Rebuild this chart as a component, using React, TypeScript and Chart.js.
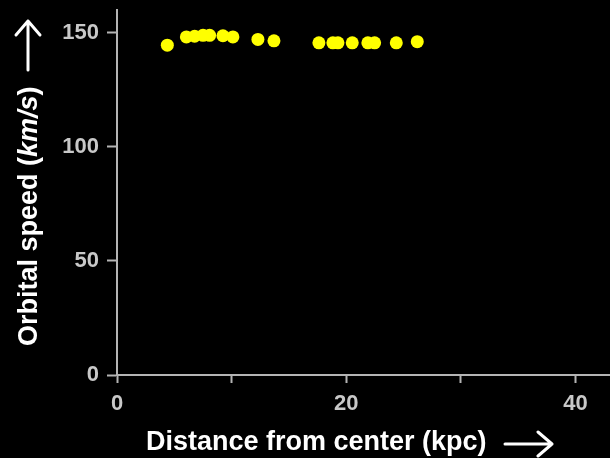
import React, { useEffect, useRef } from 'react';
import { Chart, registerables } from 'chart.js';

Chart.register(...registerables);

// Data
const distanceKpc = [4.39, 6.05, 6.77, 7.5, 8.08, 9.24, 10.11, 12.29, 13.69, 17.61, 18.83, 19.27, 20.52, 21.88, 22.47, 24.36, 26.19];
const speedKms = [144.6, 148.2, 148.5, 148.9, 148.9, 148.7, 148.2, 147.1, 146.5, 145.6, 145.6, 145.6, 145.6, 145.6, 145.6, 145.6, 146.1];
const xLabeledTicks = [0, 20, 40];
const xTitle = 'Distance from center (kpc)';
const yTitleParts = [
  { text: 'Orbital speed (', italic: false },
  { text: 'km/s', italic: true },
  { text: ')', italic: false },
];

const FONT_FAMILY = '"Liberation Sans", Arial, Helvetica, sans-serif';
const AXIS_COLOR = '#b4b4b4';
const TICK_LABEL_COLOR = '#c8c8c8';

function drawArrow(ctx: CanvasRenderingContext2D, x1: number, y1: number, x2: number, y2: number) {
  const ang = Math.atan2(y2 - y1, x2 - x1);
  const hl = 14;
  const hw = 12;
  ctx.beginPath();
  ctx.moveTo(x1, y1);
  ctx.lineTo(x2, y2);
  const bx = x2 - hl * Math.cos(ang);
  const by = y2 - hl * Math.sin(ang);
  const px = -Math.sin(ang);
  const py = Math.cos(ang);
  ctx.moveTo(bx + px * hw, by + py * hw);
  ctx.lineTo(x2, y2);
  ctx.lineTo(bx - px * hw, by - py * hw);
  ctx.stroke();
}

const titlePlugin = {
  id: 'axisTitles',
  afterDraw(chart: any) {
    const ctx: CanvasRenderingContext2D = chart.ctx;
    const font = (italic: boolean) => `${italic ? 'italic ' : ''}bold 27px ${FONT_FAMILY}`;
    ctx.save();
    ctx.fillStyle = '#ffffff';
    ctx.strokeStyle = '#ffffff';
    ctx.lineWidth = 3;
    ctx.lineCap = 'round';
    ctx.lineJoin = 'round';
    // X title
    ctx.font = font(false);
    ctx.textAlign = 'left';
    ctx.textBaseline = 'alphabetic';
    ctx.fillText(xTitle, 146, 450);
    drawArrow(ctx, 505, 444, 552, 444);
    // Y arrow
    drawArrow(ctx, 28, 70, 28, 21);
    // Y title
    ctx.translate(37, 346);
    ctx.rotate(-Math.PI / 2);
    let x = 0;
    for (const p of yTitleParts) {
      ctx.font = font(p.italic);
      ctx.fillText(p.text, x, 0);
      x += ctx.measureText(p.text).width;
    }
    ctx.restore();
  },
};

export default function App() {
  const canvasRef = useRef<HTMLCanvasElement | null>(null);

  useEffect(() => {
    document.body.style.margin = '0';
    document.body.style.background = '#000';
    const canvas = canvasRef.current;
    if (!canvas) return;
    const chart = new Chart(canvas, {
      type: 'scatter',
      data: {
        datasets: [
          {
            data: distanceKpc.map((d, i) => ({ x: d, y: speedKms[i] })),
            backgroundColor: '#ffff00',
            borderWidth: 0,
            pointRadius: 6.5,
            pointHoverRadius: 6.5,
          },
        ],
      },
      options: {
        responsive: false,
        animation: false,
        layout: { autoPadding: false, padding: { top: 10, right: 0, bottom: 0, left: 0 } },
        plugins: {
          legend: { display: false },
          tooltip: { enabled: false },
          title: { display: false },
        },
        scales: {
          x: {
            type: 'linear',
            min: 0,
            max: 43,
            afterFit: (scale: any) => {
              scale.height = 83;
              scale.paddingLeft = 0;
              scale.paddingRight = 0;
            },
            border: { display: true, color: AXIS_COLOR, width: 2 },
            grid: {
              display: true,
              drawOnChartArea: false,
              drawTicks: true,
              tickLength: 8,
              tickColor: AXIS_COLOR,
              tickWidth: 2,
            },
            ticks: {
              stepSize: 10,
              includeBounds: false,
              autoSkip: false,
              maxRotation: 0,
              padding: 8,
              color: TICK_LABEL_COLOR,
              font: { family: FONT_FAMILY, size: 22, weight: 'bold' },
              callback: (v: any) => (xLabeledTicks.includes(Number(v)) ? String(v) : ''),
            },
          },
          y: {
            type: 'linear',
            min: 0,
            max: 160,
            afterFit: (scale: any) => {
              scale.width = 117;
              scale.paddingTop = 0;
              scale.paddingBottom = 0;
            },
            border: { display: true, color: AXIS_COLOR, width: 2 },
            grid: {
              display: true,
              drawOnChartArea: false,
              drawTicks: true,
              tickLength: 10,
              tickColor: AXIS_COLOR,
              tickWidth: 2,
            },
            ticks: {
              stepSize: 50,
              includeBounds: false,
              padding: 8,
              color: TICK_LABEL_COLOR,
              font: { family: FONT_FAMILY, size: 22, weight: 'bold' },
            },
          },
        },
      },
      plugins: [titlePlugin],
    });
    return () => chart.destroy();
  }, []);

  return (
    <div style={{ position: 'fixed', left: 0, top: 0, width: 610, height: 458, background: '#000' }}>
      <canvas ref={canvasRef} width={610} height={458} style={{ display: 'block' }} />
    </div>
  );
}
